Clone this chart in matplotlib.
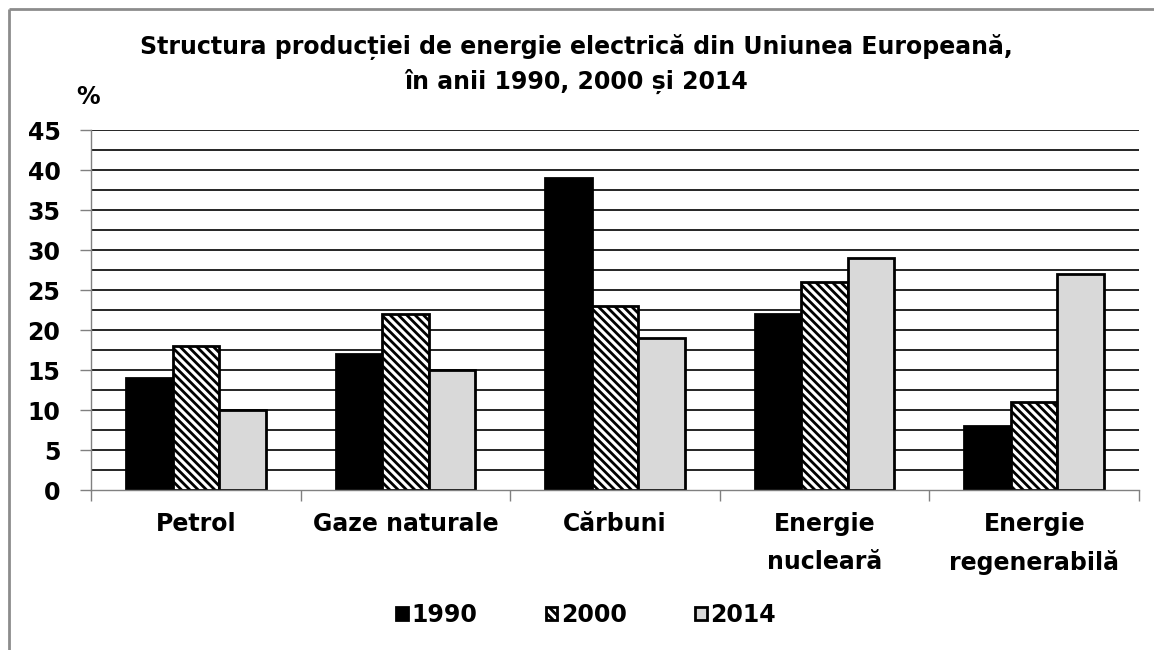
import matplotlib
matplotlib.use('Agg')
import matplotlib.pyplot as plt
from matplotlib.lines import Line2D
import numpy as np

plt.rcParams['font.family'] = ['DejaVu Sans']
plt.rcParams['font.weight'] = 'bold'
plt.rcParams['hatch.linewidth'] = 2.0

categories = ['Petrol', 'Gaze naturale', 'Cărbuni', 'Energie\nnucleară', 'Energie\nregenerabilă']
years = ['1990', '2000', '2014']
v1990 = [14, 17, 39, 22, 8]
v2000 = [18, 22, 23, 26, 11]
v2014 = [10, 15, 19, 29, 27]
yticks = [0, 5, 10, 15, 20, 25, 30, 35, 40, 45]

title = 'Structura producției de energie electrică din Uniunea Europeană,\nîn anii 1990, 2000 și 2014'

fig = plt.figure(figsize=(11.54, 6.5), dpi=100)
ax = fig.add_axes([91 / 1154, 1 - 490 / 650, 1048 / 1154, 360 / 650])

x = np.arange(len(categories))
w = 0.222
ax.bar(x - w, v1990, w, color='black', edgecolor='black', linewidth=2, label=years[0], zorder=3)
ax.bar(x, v2000, w, color='white', edgecolor='black', linewidth=2, hatch='\\\\\\\\', label=years[1], zorder=3)
ax.bar(x + w, v2014, w, color='#d9d9d9', edgecolor='black', linewidth=2, label=years[2], zorder=3)

# horizontal lines every 2.5
for yv in np.arange(2.5, 45.1, 2.5):
    ax.axhline(yv, color='black', lw=1.2, zorder=1)

ax.set_xlim(-0.5, len(categories) - 0.5)
ax.set_ylim(0, 45)
ax.set_yticks(yticks)
ax.set_yticklabels([str(t) for t in yticks], fontsize=17, fontweight='bold')
ax.tick_params(axis='y', direction='out', length=8, width=1, color='#808080', pad=14)

ax.set_xticks(x)
ax.set_xticklabels(categories, fontsize=17, fontweight='bold', linespacing=1.7)
ax.set_xticks(np.arange(-0.5, len(categories), 1), minor=True)
ax.tick_params(axis='x', which='major', length=0, pad=16)
ax.tick_params(axis='x', which='minor', direction='out', length=8, width=1, color='#808080')

for s in ['top', 'right']:
    ax.spines[s].set_visible(False)
for s in ['left', 'bottom']:
    ax.spines[s].set_color('#808080')
    ax.spines[s].set_linewidth(1)
    ax.spines[s].set_zorder(4)

fig.text(0.5 * (135 + 1017) / 1154, 1 - 64 / 650, title, ha='center', va='center',
         fontsize=17, fontweight='bold', linespacing=1.45)
fig.text(88 / 1154, 1 - 97 / 650, '%', ha='center', va='center', fontsize=17, fontweight='bold')

fig.legend(loc='center', bbox_to_anchor=(586 / 1154, 1 - 615 / 650), ncol=3, frameon=False,
           prop={'size': 17, 'weight': 'bold'}, handlelength=0.5, handleheight=0.5,
           handletextpad=0.15, columnspacing=2.9)

# outer frame (left and top edges visible)
fig.add_artist(Line2D([9 / 1154, 9 / 1154], [0, 1 - 9 / 650], color='#8c8c8c', lw=2,
                      solid_capstyle='butt', transform=fig.transFigure))
fig.add_artist(Line2D([9 / 1154, 1], [1 - 9 / 650, 1 - 9 / 650], color='#8c8c8c', lw=2,
                      solid_capstyle='butt', transform=fig.transFigure))

fig.savefig('out.png', dpi=100)
